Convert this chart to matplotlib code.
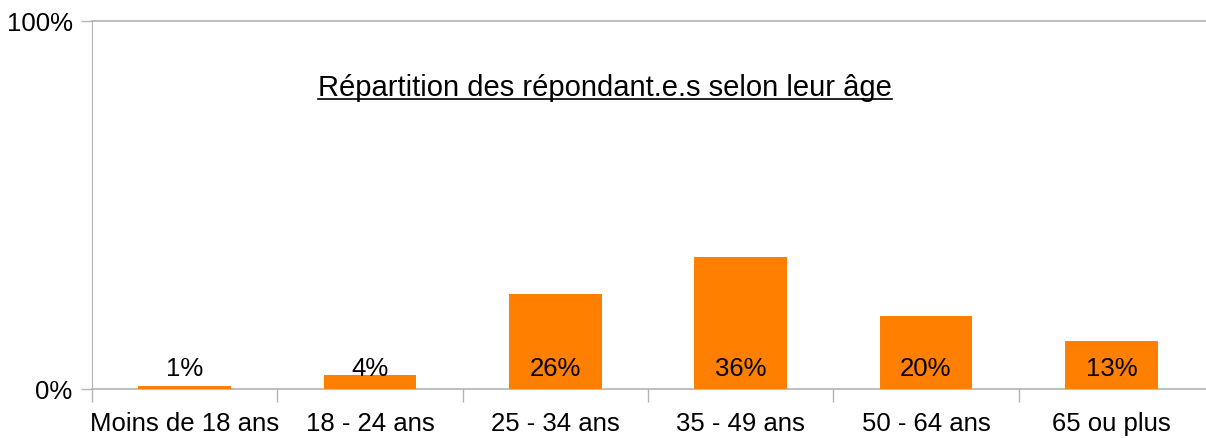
import numpy as np
import matplotlib.pyplot as plt
from matplotlib.lines import Line2D

plt.rcParams['font.family'] = ['Liberation Sans', 'DejaVu Sans']

categories = ['Moins de 18 ans', '18 - 24 ans', '25 - 34 ans', '35 - 49 ans', '50 - 64 ans', '65 ou plus']
values = [0.8, 3.8, 25.8, 35.9, 19.8, 13.0]
labels = ['1%', '4%', '26%', '36%', '20%', '13%']
title = 'Répartition des répondant.e.s selon leur âge'

bar_color = '#ff8000'
grid_color = '#b3b3b3'
fs = 18.5

fig = plt.figure(figsize=(12.06, 4.39), dpi=100)
ax = fig.add_axes([92 / 1206, 1 - 390 / 439, (1204 - 92) / 1206, (390 - 22) / 439])

x = np.arange(len(categories))
ax.bar(x, values, width=0.5, color=bar_color, zorder=3)
for xi, lab in zip(x, labels):
    ax.text(xi, 5.8, lab, ha='center', va='center', fontsize=fs, color='black', zorder=4)

ax.set_xlim(-0.5, len(categories) - 0.5)
ax.set_ylim(0, 100)

# y axis: only 0% and 100%
ax.set_yticks([0, 100])
ax.set_yticklabels(['0%', '100%'], fontsize=fs)
ax.tick_params(axis='y', length=8, width=1, color=grid_color, pad=6)
ax.set_axisbelow(True)

# x axis: ticks between categories, labels at centers
ax.set_xticks(np.arange(len(categories)) - 0.5)
ax.set_xticklabels([])
ax.set_xticks(x, minor=True)
ax.set_xticklabels(categories, minor=True, fontsize=fs)
ax.tick_params(axis='x', which='major', length=9, width=1, color=grid_color)
ax.tick_params(axis='x', which='minor', length=0, pad=16)

for s in ['top', 'right', 'bottom']:
    ax.spines[s].set_visible(False)
ax.spines['left'].set_color(grid_color)

# 0% and 100% lines run to the figure edge
right = len(categories) - 0.49
for yv in [0, 100]:
    ax.plot([-0.5, right], [yv, yv], color=grid_color, lw=1.2, clip_on=False, zorder=1)

t = fig.text(0.502, 1 - 88 / 439, title, ha='center', va='center', fontsize=21)
fig.canvas.draw()
bb = t.get_window_extent().transformed(fig.transFigure.inverted())
fig.add_artist(Line2D([bb.x0, bb.x1], [bb.y0 + 0.005, bb.y0 + 0.005], color='black', lw=1.2))

fig.savefig('out.png', dpi=100)
